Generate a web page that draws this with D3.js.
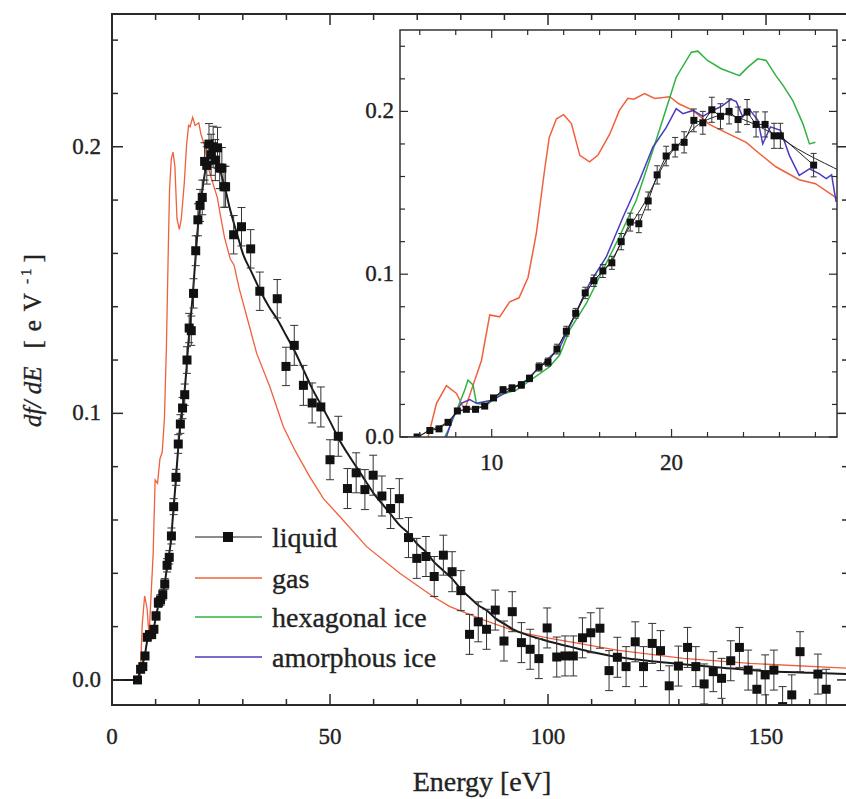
<!DOCTYPE html>
<html>
<head>
<meta charset="utf-8">
<script src="https://cdn.jsdelivr.net/npm/d3@7"></script>
<style>
  body { margin: 0; background: #fff; }
  svg { display: block; }
  text { font-family: "Liberation Serif", "Times New Roman", serif; fill: #222; stroke: #222; stroke-width: 0.35px; }
</style>
</head>
<body>
<div id="chart"></div>
<script>
// liquid water data points (energy in eV, df/dE, error)
var liquidE = [5.85, 6.56, 7.07, 7.57, 8.09, 8.59, 9.1, 9.61, 10.1, 10.63, 11.13, 11.65, 12.1, 12.63, 13.13, 13.63,
    14.15, 14.67, 15.2, 15.68, 16.18, 16.68, 17.2, 17.7, 18.18, 18.7, 19.2, 19.7, 20.2, 20.7, 21.24, 21.74,
    22.24, 22.72, 23.2, 23.7, 24.2, 24.7, 25.2, 25.7, 26.05, 27.9, 29.7, 31.8, 33.9, 37.9, 39.9, 41.8,
    43.9, 45.9, 47.9, 50.0, 51.9, 54.0, 56.0, 58.0, 59.9, 61.9, 63.9, 65.9, 68.0, 69.9, 72.0, 73.9,
    76.0, 78.0, 80.0, 82.0, 84.0, 85.9, 87.9, 89.9, 91.8, 93.9, 95.9, 97.9, 99.8, 102.0, 103.9, 105.8,
    107.9, 109.8, 111.9, 114.0, 115.9, 117.9, 120.0, 121.9, 123.9, 125.8, 127.8, 129.9, 132.0, 133.9, 135.8, 137.9,
    139.8, 141.9, 143.9, 145.9, 147.9, 149.8, 151.8, 153.8, 155.9, 157.8, 161.9, 163.8];
var liquidV = [0.000, 0.004, 0.005, 0.009, 0.016, 0.017, 0.017, 0.019, 0.024, 0.029, 0.030, 0.032, 0.036, 0.043, 0.046, 0.054,
    0.065, 0.076, 0.0885, 0.096, 0.102, 0.107, 0.120, 0.132, 0.131, 0.145, 0.161, 0.1726, 0.178, 0.181, 0.1945, 0.193,
    0.201, 0.197, 0.200, 0.195, 0.1996, 0.192, 0.192, 0.185, 0.185, 0.167, 0.170, 0.1617, 0.1458, 0.143, 0.1176, 0.1255,
    0.1105, 0.1039, 0.1024, 0.0826, 0.0914, 0.0718, 0.0777, 0.0714, 0.0768, 0.069, 0.0643, 0.068, 0.0534, 0.0456, 0.0463, 0.0388,
    0.0468, 0.0406, 0.0335, 0.0171, 0.0218, 0.019, 0.0262, 0.0146, 0.0256, 0.014, 0.0115, 0.008, 0.0195, 0.0086, 0.009, 0.009,
    0.0158, 0.0177, 0.0194, 0.0035, 0.0085, 0.005, 0.0143, 0.005, 0.0137, 0.011, -0.0022, 0.0052, 0.0122, 0.005, -0.0015, 0.0031,
    0.0006, 0.0072, 0.0122, 0.0037, -0.0035, 0.0019, 0.0037, -0.010, -0.0056, 0.0106, 0.0022, -0.0035];
var liquidErr = [0.001, 0.001, 0.001, 0.001, 0.001, 0.001, 0.001, 0.0012, 0.0015, 0.0018, 0.002, 0.002, 0.002, 0.0025, 0.0025, 0.003,
    0.003, 0.003, 0.0035, 0.0035, 0.004, 0.004, 0.005, 0.0055, 0.0055, 0.0055, 0.0056, 0.006, 0.006, 0.0065, 0.007, 0.007,
    0.0077, 0.0077, 0.0077, 0.0077, 0.0077, 0.0077, 0.0077, 0.0077, 0.0077, 0.0072, 0.0072, 0.0072, 0.0072, 0.0072, 0.0072, 0.0075,
    0.0075, 0.0075, 0.0075, 0.0075, 0.0075, 0.0075, 0.0075, 0.0075, 0.0075, 0.0075, 0.0075, 0.0075, 0.0075, 0.0075, 0.0075, 0.0075,
    0.0075, 0.0075, 0.0075, 0.0075, 0.0075, 0.0075, 0.0075, 0.0075, 0.0075, 0.0075, 0.0075, 0.0075, 0.0075, 0.0075, 0.0075, 0.0075,
    0.0075, 0.0075, 0.0075, 0.0075, 0.0075, 0.0075, 0.0075, 0.0075, 0.0075, 0.0075, 0.0075, 0.0075, 0.0075, 0.0075, 0.0075, 0.0075,
    0.0075, 0.0075, 0.0075, 0.0075, 0.0075, 0.0075, 0.0075, 0.0075, 0.0075, 0.0075, 0.0075, 0.0075];

// smooth curve through the liquid data
var fitE = [0, 5.8, 6.5, 7, 7.5, 8, 8.5, 9, 9.5, 10, 10.5, 11, 11.5, 12, 12.5, 13, 13.5, 14, 14.5, 15, 15.5, 16, 16.5,
    17, 17.5, 18, 18.5, 19, 19.5, 20, 20.5, 21, 21.5, 22, 22.5, 23, 23.5, 24, 25, 26, 27, 28, 29, 30, 32, 34, 36,
    38, 40, 42, 44, 46, 48, 50, 52, 54, 56, 58, 60, 62, 64, 66, 68, 70, 72, 74, 76, 78, 80, 82, 84, 86, 88, 90,
    92, 95, 98, 100, 105, 110, 118, 125, 133, 140, 148, 160, 169];
var fitV = [0, 0, 0.004, 0.006, 0.009, 0.014, 0.017, 0.018, 0.019, 0.023, 0.027, 0.030, 0.032, 0.035, 0.041, 0.046, 0.052, 0.062, 0.072, 0.083, 0.093, 0.100, 0.106,
    0.115, 0.126, 0.135, 0.144, 0.155, 0.166, 0.175, 0.181, 0.187, 0.192, 0.195, 0.197, 0.198, 0.197, 0.195, 0.190, 0.184, 0.177, 0.171, 0.1655, 0.160, 0.153, 0.146, 0.140,
    0.135, 0.129, 0.123, 0.116, 0.109, 0.103, 0.097, 0.0905, 0.085, 0.080, 0.075, 0.070, 0.066, 0.062, 0.058, 0.055, 0.051, 0.048, 0.044, 0.041, 0.038, 0.034, 0.031, 0.028, 0.026, 0.023, 0.021,
    0.019, 0.017, 0.0155, 0.0145, 0.0125, 0.0105, 0.0081, 0.0068, 0.0056, 0.0046, 0.0035, 0.0027, 0.0022];

// gas phase
var gasE = [6.46, 6.93, 7.48, 8.04, 8.5, 8.87, 9.43, 9.89, 10.44, 11, 11.52, 12.02, 12.48, 12.94, 13.2, 13.6, 14, 14.43, 14.9,
    15.44, 15.9, 16.56, 17.1, 17.57, 17.9, 18.5, 19.06, 19.9, 20.4, 21.2, 22.1, 23.2, 24.15, 24.9, 25.8, 27.1, 28, 29.15,
    31.3, 33.2, 36.2, 39.3, 42, 45.4, 48.5, 52.3, 58.4, 66, 73.7, 77.5, 81.4, 85.2, 92.8, 100.5, 115.8, 131, 146.3, 168.8];
var gasV = [0, 0.0207, 0.0315, 0.0268, 0.0166, 0.0288, 0.047, 0.075, 0.0738, 0.083, 0.0855, 0.098, 0.125, 0.164, 0.184, 0.1955, 0.198, 0.1925, 0.173,
    0.169, 0.173, 0.186, 0.2006, 0.208, 0.2075, 0.211, 0.208, 0.209, 0.2047, 0.2006, 0.192, 0.186, 0.181, 0.174, 0.166, 0.158, 0.1556, 0.147,
    0.134, 0.1224, 0.110, 0.095, 0.086, 0.0761, 0.068, 0.0612, 0.050, 0.040, 0.0312, 0.0275, 0.025, 0.0225, 0.0181, 0.0156, 0.0112, 0.0081, 0.0062, 0.0044];

// hexagonal ice
var hexE = [7.39, 7.67, 8.13, 8.5, 8.68, 8.96, 9.15, 9.7, 10.44, 11.37, 12.3, 13.2, 13.78, 14.33, 15.26, 16.18, 17.1, 18.04,
    18.78, 19.5, 20.26, 21.1, 21.46, 22, 22.76, 23.78, 24.24, 24.8, 25.26, 25.8, 26.2, 26.74, 27.3, 27.67, 28];
var hexV = [0, 0.0063, 0.0186, 0.0288, 0.035, 0.032, 0.0207, 0.0196, 0.0258, 0.0288, 0.036, 0.043, 0.0503, 0.0656, 0.082, 0.1025, 0.123, 0.1454,
    0.17, 0.1945, 0.221, 0.2364, 0.237, 0.2313, 0.2262, 0.222, 0.2272, 0.2323, 0.2313, 0.222, 0.216, 0.2067, 0.1925, 0.180, 0.181];

// amorphous ice
var amoE = [7.48, 7.85, 8.31, 8.78, 9.15, 10.07, 11, 11.93, 13.04, 13.78, 14.5, 15.44, 16.37, 17.3, 18.22, 18.96, 19.7, 20.26,
    20.63, 21.2, 21.74, 22.3, 22.76, 23.3, 23.6, 23.96, 24.3, 24.8, 25.07, 25.5, 26.06, 26.55, 27.1, 27.67, 28.2, 28.6, 28.9, 29.15];
var amoV = [0, 0.0125, 0.0207, 0.023, 0.0207, 0.0227, 0.0288, 0.035, 0.047, 0.055, 0.0718, 0.0943, 0.1106, 0.135, 0.1577, 0.178, 0.190, 0.2017,
    0.1986, 0.2006, 0.197, 0.2006, 0.203, 0.2074, 0.206, 0.1965, 0.2017, 0.1945, 0.180, 0.1905, 0.1884, 0.173, 0.1607, 0.1647, 0.1618, 0.1587, 0.161, 0.1444];

var legendNames = ["liquid", "gas", "hexagonal ice", "amorphous ice"];
var colors = ["#1a1a1a", "#f0603c", "#2fb23f", "#4a3cc0"];

function pairs(xs, ys) {
    return xs.map(function (x, i) { return [x, ys[i]]; });
}
var liquid = liquidE.map(function (e, i) { return { e: e, v: liquidV[i], err: liquidErr[i] }; });

var width = 846, height = 799;
var svg = d3.select("#chart").append("svg")
    .attr("width", width)
    .attr("height", height);

// ---------- main plot ----------
var main = { left: 112, right: 848, top: 14, bottom: 705 };
var x = d3.scaleLinear().domain([0, 168.8]).range([main.left, main.right]);
var y = d3.scaleLinear().domain([-0.0094, 0.2498]).range([main.bottom, main.top]);

svg.append("clipPath").attr("id", "clipMain")
    .append("rect")
    .attr("x", main.left).attr("y", main.top)
    .attr("width", main.right - main.left).attr("height", main.bottom - main.top);

function drawTicks(g, xs, ys, box, xMaj, xMin, yMaj, yMin, lenMaj, lenMin, sw) {
    var xt = d3.range(xMin[0], xMin[1] + 1e-9, xMin[2]);
    var yt = d3.range(yMin[0], yMin[1] + 1e-9, yMin[2]);
    xt.forEach(function (t) {
        var major = xMaj.some(function (m) { return Math.abs(m - t) < 1e-6; });
        var len = major ? lenMaj : lenMin;
        var px = xs(t);
        if (px < box.left || px > box.right) return;
        g.append("line").attr("x1", px).attr("x2", px).attr("y1", box.bottom).attr("y2", box.bottom - len)
            .attr("stroke", "#2a2a2a").attr("stroke-width", sw);
        g.append("line").attr("x1", px).attr("x2", px).attr("y1", box.top).attr("y2", box.top + len)
            .attr("stroke", "#2a2a2a").attr("stroke-width", sw);
    });
    yt.forEach(function (t) {
        var major = yMaj.some(function (m) { return Math.abs(m - t) < 1e-6; });
        var len = major ? lenMaj : lenMin;
        var py = ys(t);
        if (py < box.top || py > box.bottom) return;
        g.append("line").attr("y1", py).attr("y2", py).attr("x1", box.left).attr("x2", box.left + len)
            .attr("stroke", "#2a2a2a").attr("stroke-width", sw);
        g.append("line").attr("y1", py).attr("y2", py).attr("x1", box.right).attr("x2", box.right - len)
            .attr("stroke", "#2a2a2a").attr("stroke-width", sw);
    });
}

var lineGen = function (xs, ys) {
    return d3.line().x(function (d) { return xs(d[0]); }).y(function (d) { return ys(d[1]); });
};

var mainData = svg.append("g").attr("clip-path", "url(#clipMain)");

mainData.append("path")
    .datum(pairs(gasE, gasV))
    .attr("d", lineGen(x, y).curve(d3.curveLinear))
    .attr("fill", "none").attr("stroke", colors[1]).attr("stroke-width", 1.3);

mainData.append("path")
    .datum(pairs(fitE, fitV))
    .attr("d", lineGen(x, y).curve(d3.curveMonotoneX))
    .attr("fill", "none").attr("stroke", "#1a1a1a").attr("stroke-width", 2);

// error bars
var eb = mainData.selectAll(".eb").data(liquid).enter().append("g").attr("class", "eb");
eb.append("line")
    .attr("x1", function (d) { return x(d.e); }).attr("x2", function (d) { return x(d.e); })
    .attr("y1", function (d) { return y(d.v - d.err); }).attr("y2", function (d) { return y(d.v + d.err); })
    .attr("stroke", "#333").attr("stroke-width", 1);
[-1, 1].forEach(function (s) {
    eb.append("line")
        .attr("x1", function (d) { return x(d.e) - 4; }).attr("x2", function (d) { return x(d.e) + 4; })
        .attr("y1", function (d) { return y(d.v + s * d.err); }).attr("y2", function (d) { return y(d.v + s * d.err); })
        .attr("stroke", "#333").attr("stroke-width", 1);
});
mainData.selectAll(".pt").data(liquid).enter().append("rect")
    .attr("x", function (d) { return x(d.e) - 4.5; })
    .attr("y", function (d) { return y(d.v) - 4.5; })
    .attr("width", 9).attr("height", 9)
    .attr("fill", "#111");

// main frame
svg.append("rect")
    .attr("x", main.left).attr("y", main.top)
    .attr("width", main.right - main.left).attr("height", main.bottom - main.top)
    .attr("fill", "none").attr("stroke", "#2a2a2a").attr("stroke-width", 2);
drawTicks(svg.append("g"), x, y, main, [0, 50, 100, 150], [0, 160, 10], [0, 0.1, 0.2], [0, 0.24, 0.02], 11, 6, 1.5);

// main tick labels
svg.selectAll(".xl").data([0, 50, 100, 150]).enter().append("text")
    .attr("x", function (d) { return x(d); }).attr("y", 744)
    .attr("text-anchor", "middle").attr("font-size", 23)
    .text(function (d) { return d; });
svg.selectAll(".yl").data([0, 0.1, 0.2]).enter().append("text")
    .attr("x", 101).attr("y", function (d) { return y(d) + 7; })
    .attr("text-anchor", "end").attr("font-size", 23)
    .text(function (d) { return d3.format(".1f")(d); });

svg.append("text")
    .attr("x", 482).attr("y", 791)
    .attr("text-anchor", "middle").attr("font-size", 28)
    .text("Energy [eV]");

// y title, written bottom to top
var yl = svg.append("text")
    .attr("transform", "translate(41,427) rotate(-90)")
    .attr("text-anchor", "start").attr("font-size", 25);
yl.append("tspan").attr("font-style", "italic").text("df/ dE");
yl.append("tspan").attr("dx", 18).attr("letter-spacing", 9).text("[eV");
yl.append("tspan").attr("font-size", 15).attr("dy", -10).attr("letter-spacing", 3).text("-1");
yl.append("tspan").attr("dy", 10).attr("dx", 3).text("]");

// legend
var legend = svg.append("g");
var legY = [537, 578, 617, 657];
legendNames.forEach(function (name, i) {
    legend.append("line")
        .attr("x1", 195).attr("x2", 262).attr("y1", legY[i]).attr("y2", legY[i])
        .attr("stroke", colors[i]).attr("stroke-width", i === 0 ? 1 : 1.5);
    if (i === 0) {
        legend.append("rect").attr("x", 223).attr("y", legY[i] - 5).attr("width", 10).attr("height", 10).attr("fill", "#111");
    }
    legend.append("text")
        .attr("x", 272).attr("y", legY[i] + 10)
        .attr("font-size", 28)
        .text(name);
});

// ---------- inset ----------
var ins = { left: 400, right: 837, top: 30, bottom: 437 };
var xi = d3.scaleLinear().domain([4.9, 29.2]).range([ins.left, ins.right]);
var yi = d3.scaleLinear().domain([0, 0.25]).range([ins.bottom, ins.top]);

svg.append("rect")
    .attr("x", ins.left).attr("y", ins.top)
    .attr("width", ins.right - ins.left).attr("height", ins.bottom - ins.top)
    .attr("fill", "#fff");
svg.append("clipPath").attr("id", "clipIns")
    .append("rect")
    .attr("x", ins.left).attr("y", ins.top)
    .attr("width", ins.right - ins.left).attr("height", ins.bottom - ins.top);

var insData = svg.append("g").attr("clip-path", "url(#clipIns)");
insData.append("path").datum(pairs(gasE, gasV))
    .attr("d", lineGen(xi, yi))
    .attr("fill", "none").attr("stroke", colors[1]).attr("stroke-width", 1.5);
insData.append("path").datum(pairs(hexE, hexV))
    .attr("d", lineGen(xi, yi))
    .attr("fill", "none").attr("stroke", colors[2]).attr("stroke-width", 1.5);
insData.append("path").datum(pairs(amoE, amoV))
    .attr("d", lineGen(xi, yi))
    .attr("fill", "none").attr("stroke", colors[3]).attr("stroke-width", 1.5);
insData.append("path").datum(pairs(fitE, fitV))
    .attr("d", lineGen(xi, yi).curve(d3.curveMonotoneX))
    .attr("fill", "none").attr("stroke", "#222").attr("stroke-width", 1);
var liqIns = liquid.filter(function (d) { return d.e < 29; });
insData.append("path").datum(liqIns.map(function (d) { return [d.e, d.v]; }))
    .attr("d", lineGen(xi, yi))
    .attr("fill", "none").attr("stroke", "#222").attr("stroke-width", 1);

var ebi = insData.selectAll(".ebi").data(liqIns).enter().append("g");
ebi.append("line")
    .attr("x1", function (d) { return xi(d.e); }).attr("x2", function (d) { return xi(d.e); })
    .attr("y1", function (d) { return yi(d.v - d.err); }).attr("y2", function (d) { return yi(d.v + d.err); })
    .attr("stroke", "#333").attr("stroke-width", 1);
[-1, 1].forEach(function (s) {
    ebi.append("line")
        .attr("x1", function (d) { return xi(d.e) - 3; }).attr("x2", function (d) { return xi(d.e) + 3; })
        .attr("y1", function (d) { return yi(d.v + s * d.err); }).attr("y2", function (d) { return yi(d.v + s * d.err); })
        .attr("stroke", "#333").attr("stroke-width", 1);
});
insData.selectAll(".pti").data(liqIns).enter().append("rect")
    .attr("x", function (d) { return xi(d.e) - 3.5; })
    .attr("y", function (d) { return yi(d.v) - 3.5; })
    .attr("width", 7).attr("height", 7)
    .attr("fill", "#111");

svg.append("rect")
    .attr("x", ins.left).attr("y", ins.top)
    .attr("width", ins.right - ins.left).attr("height", ins.bottom - ins.top)
    .attr("fill", "none").attr("stroke", "#333").attr("stroke-width", 1.5);
drawTicks(svg.append("g"), xi, yi, ins, [10, 20], [6, 28, 2], [0, 0.1, 0.2], [0, 0.24, 0.02], 8, 5, 1.2);

svg.selectAll(".xli").data([10, 20]).enter().append("text")
    .attr("x", function (d) { return xi(d); }).attr("y", 470)
    .attr("text-anchor", "middle").attr("font-size", 23)
    .text(function (d) { return d; });
svg.selectAll(".yli").data([0, 0.1, 0.2]).enter().append("text")
    .attr("x", 394).attr("y", function (d) { return yi(d) + 7; })
    .attr("text-anchor", "end").attr("font-size", 23)
    .text(function (d) { return d3.format(".1f")(d); });
</script>
</body>
</html>
